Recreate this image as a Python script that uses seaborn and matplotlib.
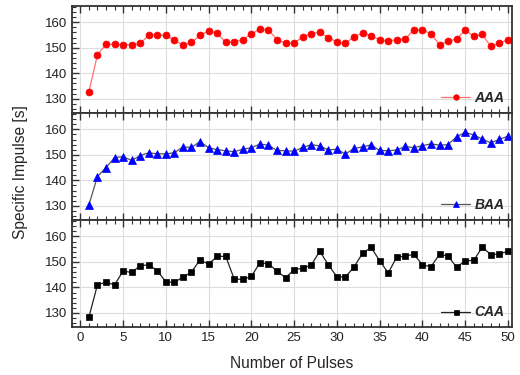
import numpy as np
import pandas as pd
import matplotlib
matplotlib.use("Agg")
import matplotlib.pyplot as plt
from matplotlib.ticker import MultipleLocator
import seaborn as sns

pulses = list(range(1, 51))
aaa = [132.6, 147.2, 151.3, 151.3, 151.1, 151.1, 151.7, 154.9, 154.9, 154.8,
       152.9, 151.1, 152.1, 154.8, 156.6, 155.7, 152.1, 152.3, 153.2, 155.3,
       157.4, 156.9, 153.2, 151.8, 151.8, 154.3, 155.5, 156.0, 154.0, 152.2,
       151.7, 154.3, 155.7, 154.7, 153.1, 152.7, 153.1, 153.4, 157.1, 156.9,
       155.5, 151.2, 152.5, 153.4, 157.0, 154.4, 155.2, 150.5, 151.8, 153.2]
baa = [130.3, 141.5, 145.0, 148.9, 149.3, 147.8, 149.7, 150.8, 150.4, 150.4,
       150.8, 153.1, 152.9, 155.2, 152.8, 152.0, 151.6, 151.2, 152.2, 152.8,
       154.2, 153.8, 151.7, 151.6, 151.4, 152.9, 154.0, 153.5, 151.9, 152.2,
       150.3, 152.5, 153.1, 153.9, 151.7, 151.6, 151.9, 153.3, 152.8, 153.6,
       154.3, 153.8, 154.0, 157.1, 158.8, 157.8, 156.2, 154.7, 156.1, 157.3]
caa = [128.3, 141.0, 142.1, 141.0, 146.4, 145.9, 148.5, 148.9, 146.6, 142.2,
       142.0, 144.1, 146.0, 150.9, 149.1, 152.2, 152.2, 143.3, 143.2, 144.3,
       149.7, 149.3, 146.4, 143.8, 147.0, 147.5, 148.8, 154.2, 148.9, 144.2,
       144.1, 148.0, 153.4, 155.7, 150.5, 145.7, 151.9, 152.3, 153.0, 148.9,
       148.1, 153.0, 152.3, 147.9, 150.5, 150.6, 155.8, 152.9, 153.1, 154.2]

series_names = ["AAA", "BAA", "CAA"]
series_values = [aaa, baa, caa]
x_ticks = [0, 5, 10, 15, 20, 25, 30, 35, 40, 45, 50]
y_ticks = [130, 140, 150, 160]

styles = [
    dict(marker="o", color="#ff7070", mfc="#ff0000", mec="#ff0000", ms=5.0),
    dict(marker="^", color="#555555", mfc="#0000ff", mec="#0000ff", ms=5.6),
    dict(marker="s", color="#222222", mfc="#000000", mec="#000000", ms=4.5),
]

sns.set_theme(style="white")
plt.rcParams["font.family"] = ["Liberation Sans", "DejaVu Sans"]

fig, axes = plt.subplots(3, 1, figsize=(5.2, 3.75), dpi=100, sharex=True)
fig.subplots_adjust(left=0.138, right=0.985, top=0.985, bottom=0.128, hspace=0)

for ax, name, vals, st in zip(axes, series_names, series_values, styles):
    df = pd.DataFrame({"Pulse": pulses, "Isp": vals})
    sns.lineplot(data=df, x="Pulse", y="Isp", ax=ax, label=name,
                 color=st["color"], marker=st["marker"], markersize=st["ms"],
                 markerfacecolor=st["mfc"], markeredgecolor=st["mec"],
                 markeredgewidth=0.5, linewidth=0.9)
    ax.set_xlim(-1, 50.5)
    ax.set_ylim(124.5, 166.5)
    ax.set_xticks(x_ticks)
    ax.set_yticks(y_ticks)
    ax.xaxis.set_minor_locator(MultipleLocator(1))
    ax.yaxis.set_minor_locator(MultipleLocator(2))
    ax.grid(True, which="major", color="#dddddd", linewidth=0.8)
    ax.set_axisbelow(True)
    ax.tick_params(axis="both", which="both", direction="in", top=True,
                   bottom=True, left=True, right=False, colors="#333333",
                   labelcolor="#222222", labelsize=9.5)
    ax.tick_params(which="major", length=5, width=1.0)
    ax.tick_params(which="minor", length=2.8, width=0.8)
    for sp in ax.spines.values():
        sp.set_color("#333333")
        sp.set_linewidth(1.3)
    ax.set_xlabel("")
    ax.set_ylabel("")
    leg = ax.legend(loc="lower right", frameon=False, handlelength=2.1,
                    handletextpad=0.3, borderaxespad=0.15, markerscale=0.8,
                    prop=dict(weight="bold", style="italic", size=10))

axes[-1].set_xlabel("Number of Pulses", fontsize=11.2, labelpad=9)
fig.text(0.04, 0.541, "Specific Impulse [s]", rotation=90, ha="center",
         va="center", fontsize=11.2)

fig.savefig("out.png", dpi=100)
